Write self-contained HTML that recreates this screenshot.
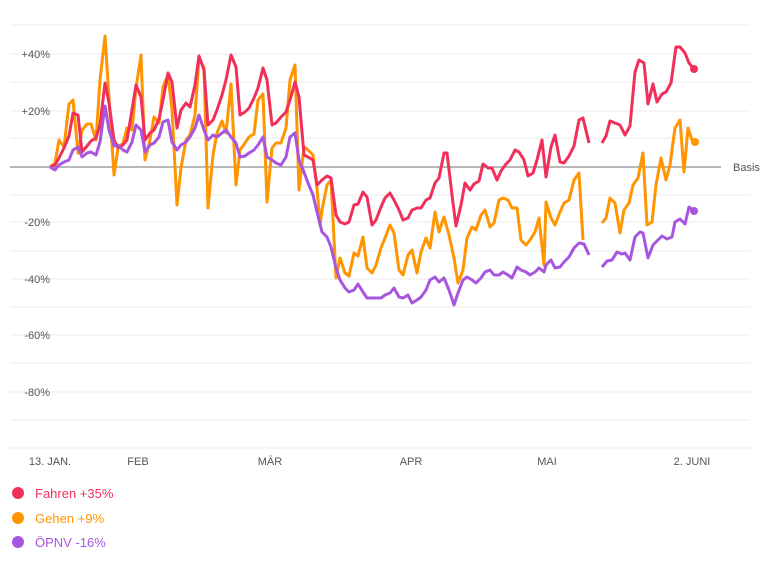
<!DOCTYPE html><html><head><meta charset="utf-8"><style>body{margin:0;background:#fff;font-family:"Liberation Sans",sans-serif}svg text{font-family:"Liberation Sans",sans-serif}</style></head><body>
<svg width="778" height="561" viewBox="0 0 778 561">
<g stroke="#ebebeb" stroke-width="1">
<line x1="10" x2="750" y1="25" y2="25"/><line x1="10" x2="750" y1="54" y2="54"/><line x1="10" x2="750" y1="82" y2="82"/><line x1="10" x2="750" y1="111" y2="111"/><line x1="10" x2="750" y1="138" y2="138"/><line x1="10" x2="750" y1="195" y2="195"/><line x1="10" x2="750" y1="222" y2="222"/><line x1="10" x2="750" y1="251" y2="251"/><line x1="10" x2="750" y1="279" y2="279"/><line x1="10" x2="750" y1="307" y2="307"/><line x1="10" x2="750" y1="335" y2="335"/><line x1="10" x2="750" y1="363" y2="363"/><line x1="10" x2="750" y1="392" y2="392"/><line x1="10" x2="750" y1="420" y2="420"/><line x1="10" x2="750" y1="448" y2="448"/>
</g>
<line x1="10" x2="721" y1="167" y2="167" stroke="#a0a0a0" stroke-width="1.5"/>
<g fill="#555" font-size="11" text-anchor="end">
<text x="50" y="58">+40%</text><text x="50" y="115">+20%</text><text x="50" y="226">-20%</text><text x="50" y="283">-40%</text><text x="50" y="339">-60%</text><text x="50" y="396">-80%</text>
</g>
<text x="733" y="171" font-size="11" fill="#555">Basis</text>
<g fill="#555" font-size="11" text-anchor="middle">
<text x="50" y="465">13. JAN.</text><text x="138" y="465">FEB</text><text x="270" y="465">MÄR</text><text x="411" y="465">APR</text><text x="547" y="465">MAI</text><text x="692" y="465">2. JUNI</text>
</g>
<g fill="none" stroke-width="3" stroke-linejoin="round">
<polyline stroke="#ff9500" points="50,167 55,163 59,140 64,147 69,104 73,100 78,153 82,130 87,124 91,124 96,140 100,80 105,36 109,98 114,175 118,148 123,143 127,128 132,130 136,88 141,55 145,160 150,140 154,117 159,123 163,87 168,75 172,110 177,205 181,168 186,140 190,135 195,115 199,58 204,68 208,208 213,155 217,133 222,121 226,133 231,84 236,185 240,150 245,143 249,137 254,134 258,100 263,94 267,202 272,148 276,143 281,143 286,128 290,80 295,65 299,190 304,147 308,150 313,155 317,188 320,225 322,210 327,185 331,180 336,278 340,258 345,273 349,276 354,253 358,256 363,237 367,268 372,273 376,265 381,248 385,238 390,225 394,233 399,270 403,275 408,255 412,250 417,273 421,252 426,238 430,248 435,212 439,232 444,217 449,235 454,258 458,283 463,270 467,238 472,227 476,230 481,215 485,210 490,227 494,223 499,200 503,198 508,200 512,208 517,208 521,240 526,245 530,240 535,232 539,218 544,265 546,202 551,218 555,225 560,212 564,203 569,200 574,180 579,173 583,240"/>
<polyline stroke="#ff9500" points="602,223 606,218 610,198 615,203 620,233 624,210 629,203 633,185 638,178 643,153 647,225 652,222 656,185 661,158 666,180 670,165 675,128 680,120 684,172 688,128 692,140 695,142"/>
<polyline stroke="#f0305a" points="50,167 55,165 59,158 64,148 69,136 73,113 78,115 82,152 87,146 91,141 96,138 100,125 105,83 109,103 114,140 118,148 123,145 127,140 132,110 136,85 141,97 145,140 150,133 154,130 159,119 163,100 168,73 172,82 177,128 181,110 186,103 190,107 195,85 199,56 204,70 208,125 213,120 217,110 222,95 226,80 231,55 236,67 240,115 245,112 249,108 254,98 258,88 263,68 267,80 272,125 276,123 281,117 286,112 290,100 295,82 299,97 304,155 308,157 313,160 317,185 322,180 327,176 331,178 336,215 340,222 345,224 349,222 354,205 358,204 363,192 367,197 372,225 376,220 381,207 385,198 390,193 394,200 399,210 403,220 408,218 412,210 417,208 421,208 426,200 430,198 435,183 439,178 444,153 447,153 452,195 456,226 461,205 465,183 470,190 474,184 479,181 483,164 488,168 492,168 497,180 501,171 506,164 510,160 515,150 519,152 524,160 528,176 533,173 537,160 542,140 546,177 551,147 555,135 560,162 564,163 569,156 574,146 579,120 583,118 589,143"/>
<polyline stroke="#f0305a" points="602,143 606,136 610,121 615,123 620,125 625,135 630,126 635,72 639,60 644,63 648,104 653,84 657,102 662,94 666,92 671,83 676,47 680,47 685,53 689,63 694,69"/>
<polyline stroke="#a855e0" points="50,167 55,170 59,165 64,162 69,160 73,150 78,147 82,157 87,153 91,152 96,155 100,142 105,106 109,130 114,146 118,145 123,150 127,152 132,142 136,125 141,130 145,152 150,145 154,143 159,137 163,122 168,120 172,142 177,150 181,145 186,142 190,137 195,128 199,115 204,130 208,140 213,135 217,137 222,133 226,130 231,137 236,143 240,157 245,156 249,153 254,150 258,145 263,137 267,157 272,160 276,163 281,165 286,157 290,137 295,133 299,160 304,172 308,183 313,195 317,212 322,232 327,237 331,247 336,268 340,280 345,288 349,292 354,290 358,284 363,292 367,298 372,298 376,298 381,298 385,295 390,293 394,288 399,297 403,298 408,295 412,303 417,300 421,297 426,290 430,280 435,277 439,282 444,278 449,290 454,305 458,293 463,280 467,277 472,280 476,283 481,278 485,272 490,270 494,275 499,275 503,272 508,275 512,278 517,267 521,270 526,272 530,275 535,272 539,268 544,272 546,265 551,260 555,268 560,267 564,262 569,257 574,248 579,243 584,244 589,255"/>
<polyline stroke="#a855e0" points="602,267 607,261 612,260 617,252 622,254 625,253 630,260 635,237 640,232 643,233 648,258 653,245 662,236 667,239 672,237 675,222 680,219 685,224 689,207 694,211"/>
</g>
<circle cx="694" cy="69" r="4" fill="#f0305a"/><circle cx="695" cy="142" r="4" fill="#ff9500"/><circle cx="694" cy="211" r="4" fill="#a855e0"/>
<circle cx="18" cy="493" r="6" fill="#f0305a"/><circle cx="18" cy="518" r="6" fill="#ff9500"/><circle cx="18" cy="542" r="6" fill="#a855e0"/>
<text x="35" y="498" font-size="13" fill="#f0305a">Fahren +35%</text>
<text x="35" y="523" font-size="13" fill="#ff9500">Gehen +9%</text>
<text x="35" y="547" font-size="13" fill="#a855e0">ÖPNV -16%</text>
</svg></body></html>
